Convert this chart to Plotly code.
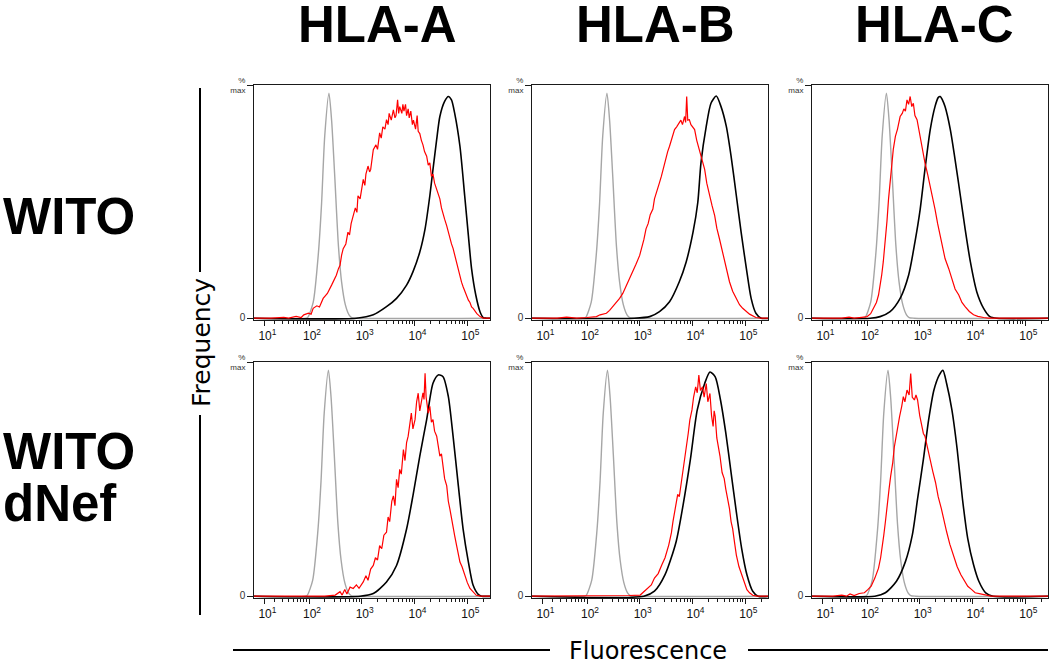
import math
import plotly.graph_objects as go

# ---------------- data (x = log10 fluorescence, y = % of max) ----------------
COLUMNS = ["HLA-A", "HLA-B", "HLA-C"]
ROW_LABELS = [["WITO"], ["WITO", "dNef"]]
TICK_EXPONENTS = [1, 2, 3, 4, 5]
Y_TICK_TEXT = ["<span style='font-size:10px'>0</span>", "%<br>max"]

A_WITO_GRAY = [(0.3, 0), (1.95, 0), (1.98, 0.5), (2.08, 7), (2.18, 29), (2.24, 51), (2.30, 81), (2.38, 100),
               (2.43, 88), (2.49, 63), (2.56, 32), (2.62, 16), (2.69, 6), (2.76, 1.5), (2.81, 0.3), (2.90, 0), (5.5, 0)]
A_WITO_BLACK = [(0.3, 0), (2.9, 0), (3.22, 1.5), (3.47, 5.1), (3.66, 8.8), (3.85, 14.7), (3.97, 20.6), (4.10, 29.4),
                (4.20, 39.7), (4.29, 54.4), (4.35, 66.1), (4.42, 79.4), (4.48, 89.6), (4.57, 96.3), (4.64, 98.5),
                (4.70, 97), (4.76, 91.1), (4.86, 76.4), (4.95, 54.4), (5.02, 36.7), (5.08, 22), (5.16, 10.3),
                (5.24, 2.9), (5.30, 0.3), (5.36, 0), (5.5, 0)]
A_WITO_RED = [(0.3, 0), (1.2, 0), (1.5, 0.4), (1.6, 0), (1.75, 0.8), (1.85, 0.3), (1.9, 1.5), (1.99, 2.2), (2.04, 1.8),
              (2.08, 4.4), (2.15, 5.5), (2.2, 5), (2.27, 8.8), (2.35, 11), (2.43, 14.7), (2.48, 17), (2.52, 19.1),
              (2.56, 22), (2.59, 23.5), (2.62, 28), (2.65, 30.9), (2.70, 33), (2.74, 38.2), (2.77, 37), (2.80, 42),
              (2.84, 45.6), (2.88, 49), (2.91, 47), (2.93, 54.4), (2.97, 53), (3.0, 58), (3.03, 61.7), (3.06, 59),
              (3.08, 64), (3.12, 67.6), (3.15, 65), (3.17, 66), (3.20, 72), (3.22, 74.9), (3.27, 77), (3.30, 75),
              (3.34, 82.3), (3.37, 80), (3.40, 85), (3.44, 84), (3.47, 88.2), (3.50, 86), (3.52, 91), (3.56, 88),
              (3.60, 92.6), (3.63, 89), (3.65, 90), (3.68, 97), (3.70, 91), (3.72, 94), (3.76, 91), (3.78, 95),
              (3.80, 92), (3.83, 95), (3.85, 90), (3.88, 93), (3.90, 89), (3.93, 92), (3.96, 86), (3.98, 88),
              (4.02, 84), (4.05, 90), (4.07, 83), (4.10, 82), (4.13, 79), (4.16, 77), (4.19, 74), (4.23, 72),
              (4.26, 68), (4.29, 69), (4.32, 63), (4.35, 64), (4.38, 60), (4.41, 58), (4.45, 55), (4.48, 53),
              (4.51, 49), (4.54, 47), (4.57, 44), (4.61, 41), (4.64, 38), (4.67, 36), (4.70, 33), (4.73, 31),
              (4.77, 27), (4.80, 25), (4.83, 21), (4.86, 19), (4.89, 16), (4.92, 14), (4.95, 12), (4.98, 10),
              (5.02, 8), (5.05, 7), (5.08, 5), (5.11, 4.4), (5.15, 3), (5.18, 2), (5.24, 0.7), (5.30, 0), (5.5, 0)]

B_WITO_GRAY = [(0.3, 0), (1.95, 0), (1.98, 0.5), (2.08, 7), (2.18, 29), (2.24, 51), (2.30, 81), (2.38, 100),
               (2.43, 88), (2.49, 63), (2.56, 32), (2.62, 16), (2.69, 6), (2.76, 1.5), (2.81, 0.3), (2.90, 0), (5.5, 0)]
B_WITO_BLACK = [(0.3, 0), (2.9, 0), (3.19, 0.7), (3.375, 2.9), (3.565, 7.3), (3.75, 16.2), (3.88, 25), (4.01, 38.2),
                (4.10, 51.4), (4.16, 69), (4.26, 85.2), (4.35, 95.5), (4.45, 98.7), (4.54, 94), (4.64, 85.2),
                (4.73, 72), (4.83, 54.4), (4.92, 38.2), (5.02, 22), (5.11, 8.8), (5.2, 2.2), (5.3, 0), (5.5, 0)]
B_WITO_RED = [(0.3, 0), (1.4, 0), (1.6, 0.5), (1.8, 0), (2.0, 0.3), (2.18, 0.7), (2.25, 1.5), (2.37, 2.2),
              (2.43, 3.5), (2.49, 5.1), (2.55, 6.5), (2.62, 8.8), (2.68, 11), (2.74, 14), (2.80, 17), (2.87, 20.6),
              (2.93, 24), (3.00, 27.9), (3.04, 31), (3.08, 35), (3.12, 39.7), (3.16, 42), (3.20, 46), (3.25, 48.5),
              (3.28, 53), (3.31, 55), (3.34, 58), (3.375, 60.2), (3.41, 63), (3.44, 66), (3.47, 67.6), (3.50, 71),
              (3.53, 74), (3.565, 76.4), (3.6, 79), (3.63, 82), (3.66, 83.8), (3.70, 85), (3.75, 86.7), (3.78, 88),
              (3.81, 86), (3.85, 89.6), (3.87, 87), (3.89, 98.5), (3.91, 88), (3.94, 88.2), (3.97, 86), (4.00, 85),
              (4.04, 83.8), (4.08, 79), (4.13, 74.9), (4.18, 70), (4.23, 66.1), (4.27, 60), (4.32, 54.4), (4.37, 50),
              (4.42, 45.6), (4.46, 40), (4.51, 35.3), (4.56, 30), (4.61, 25), (4.65, 21), (4.70, 16.2), (4.76, 12),
              (4.83, 8.8), (4.89, 6), (4.95, 4.4), (5.02, 3), (5.08, 1.8), (5.2, 0.3), (5.3, 0), (5.5, 0)]

C_WITO_GRAY = [(0.3, 0), (1.94, 0), (1.97, 0.5), (2.07, 7), (2.17, 29), (2.23, 51), (2.29, 81), (2.37, 100),
               (2.42, 88), (2.48, 63), (2.55, 32), (2.61, 16), (2.68, 6), (2.75, 1.5), (2.80, 0.3), (2.89, 0), (5.5, 0)]
C_WITO_BLACK = [(0.3, 0), (2.06, 0), (2.25, 0.7), (2.44, 2.9), (2.63, 8.8), (2.79, 19.1), (2.91, 33.8), (3.01, 48.5),
                (3.10, 66.1), (3.20, 83.8), (3.29, 94), (3.35, 98), (3.39, 98.5), (3.43, 97), (3.48, 94),
                (3.58, 83.8), (3.67, 70.5), (3.77, 54.4), (3.86, 39.7), (3.96, 25), (4.08, 11.8), (4.21, 4.4),
                (4.33, 0.7), (4.46, 0), (5.5, 0)]
C_WITO_RED = [(0.3, 0), (1.5, 0), (1.65, 0.5), (1.75, 0), (1.9, 0.4), (2.0, 0.7), (2.07, 2), (2.13, 4.4), (2.18, 7),
              (2.22, 10.3), (2.25, 14), (2.28, 19.1), (2.31, 25), (2.35, 33.8), (2.38, 43), (2.41, 52.9), (2.44, 61),
              (2.47, 69), (2.50, 75), (2.54, 80.8), (2.58, 84), (2.63, 89.6), (2.67, 91), (2.70, 93), (2.73, 92),
              (2.76, 97), (2.79, 95), (2.82, 98.5), (2.85, 94), (2.88, 95.5), (2.91, 90), (2.95, 88.2), (2.98, 84),
              (3.01, 80.8), (3.05, 75), (3.10, 69), (3.15, 64), (3.20, 58.8), (3.25, 53), (3.29, 48.5), (3.34, 42),
              (3.39, 36.7), (3.43, 31), (3.48, 26.5), (3.55, 22), (3.61, 17.6), (3.67, 13), (3.74, 10.3), (3.80, 7),
              (3.86, 5.1), (3.94, 3), (4.02, 1.5), (4.1, 0.8), (4.21, 0.3), (4.3, 0), (5.5, 0)]

A_DNEF_GRAY = [(0.3, 0), (1.94, 0), (1.97, 0.5), (2.07, 7), (2.17, 29), (2.23, 51), (2.29, 81), (2.37, 100),
               (2.42, 88), (2.48, 63), (2.55, 32), (2.61, 16), (2.68, 6), (2.75, 1.5), (2.80, 0.3), (2.89, 0), (5.5, 0)]
A_DNEF_BLACK = [(0.3, 0), (2.97, 0), (3.22, 1.2), (3.47, 6.3), (3.66, 13.6), (3.85, 29.7), (3.97, 44.4), (4.10, 62),
                (4.23, 78.1), (4.35, 94.2), (4.45, 97.9), (4.54, 97.1), (4.64, 88.4), (4.73, 70.8), (4.83, 48.8),
                (4.92, 29.7), (5.02, 15.1), (5.11, 4.8), (5.21, 0.7), (5.27, 0), (5.5, 0)]
A_DNEF_RED = [(0.3, 0), (1.5, 0), (2.3, 0), (2.5, 0.5), (2.59, 2), (2.63, 0.5), (2.68, 3), (2.72, 1), (2.78, 4),
              (2.84, 3.4), (2.9, 5), (2.95, 3.5), (3.03, 6.3), (3.08, 9), (3.12, 7), (3.17, 12), (3.22, 13.6),
              (3.26, 17), (3.30, 16), (3.34, 22.4), (3.38, 21), (3.42, 27), (3.47, 28.3), (3.50, 35), (3.53, 33),
              (3.57, 42), (3.60, 44.4), (3.63, 40), (3.66, 51.7), (3.69, 48), (3.72, 56.1), (3.75, 54), (3.79, 64.9),
              (3.82, 60), (3.85, 68), (3.88, 70.8), (3.91, 75), (3.94, 81), (3.97, 74), (4.01, 78.1), (4.04, 86),
              (4.07, 89.8), (4.10, 82), (4.13, 85.4), (4.16, 90), (4.18, 87), (4.20, 98.6), (4.22, 88), (4.26, 81),
              (4.29, 84), (4.32, 77), (4.35, 78.1), (4.38, 73), (4.42, 70.8), (4.45, 66), (4.48, 62), (4.51, 63),
              (4.54, 57.6), (4.57, 52), (4.61, 48.8), (4.64, 42), (4.67, 38.5), (4.70, 34), (4.73, 30), (4.76, 26.8),
              (4.80, 22), (4.83, 18), (4.86, 15.1), (4.90, 13), (4.95, 9.2), (5.0, 6), (5.05, 3.4), (5.1, 2),
              (5.17, 0.4), (5.25, 0), (5.5, 0)]

B_DNEF_GRAY = [(0.3, 0), (1.96, 0), (1.99, 0.5), (2.09, 7), (2.19, 29), (2.25, 51), (2.31, 81), (2.39, 100),
               (2.44, 88), (2.50, 63), (2.57, 32), (2.63, 16), (2.70, 6), (2.77, 1.5), (2.82, 0.3), (2.91, 0), (5.5, 0)]
B_DNEF_BLACK = [(0.3, 0), (3.08, 0), (3.28, 2.2), (3.48, 9.5), (3.69, 24.1), (3.82, 40.1), (3.96, 60.5), (4.09, 82.4),
                (4.23, 94.1), (4.33, 99.2), (4.43, 97), (4.53, 86.8), (4.63, 72.2), (4.73, 54.7), (4.83, 37.2),
                (4.93, 21.2), (5.03, 9.5), (5.14, 2.2), (5.24, 0), (5.5, 0)]
B_DNEF_RED = [(0.3, 0), (2.5, 0), (2.8, 0.3), (3.01, 0.5), (3.08, 2), (3.15, 3.6), (3.22, 5), (3.28, 8), (3.35, 10),
              (3.42, 13.9), (3.48, 17), (3.55, 22.6), (3.60, 28), (3.63, 33), (3.66, 37), (3.69, 40.1), (3.72, 45),
              (3.75, 44), (3.79, 50.3), (3.82, 56), (3.85, 62), (3.88, 66), (3.92, 72.2), (3.95, 78), (3.99, 82.4),
              (4.02, 88), (4.06, 92.6), (4.09, 90), (4.12, 97.8), (4.15, 91), (4.19, 92.6), (4.22, 88), (4.26, 94.1),
              (4.29, 86), (4.33, 89.7), (4.36, 80), (4.39, 75.1), (4.41, 82), (4.43, 79.5), (4.46, 70), (4.49, 66.4),
              (4.52, 62), (4.56, 54.7), (4.60, 52), (4.63, 47.4), (4.66, 44), (4.70, 38.7), (4.73, 33), (4.76, 29.9),
              (4.80, 23), (4.83, 18.2), (4.88, 13), (4.93, 9.5), (4.98, 6), (5.03, 2.9), (5.08, 1.5), (5.14, 0.4),
              (5.22, 0), (5.5, 0)]

C_DNEF_GRAY = [(0.3, 0), (1.97, 0), (2.00, 0.5), (2.10, 7), (2.20, 29), (2.26, 51), (2.32, 81), (2.40, 100),
               (2.45, 88), (2.51, 63), (2.58, 32), (2.64, 16), (2.71, 6), (2.78, 1.5), (2.83, 0.3), (2.92, 0), (5.5, 0)]
C_DNEF_BLACK = [(0.3, 0), (2.15, 0), (2.35, 1.5), (2.56, 6.6), (2.73, 15.3), (2.86, 27), (2.96, 43), (3.07, 60.5),
                (3.17, 78.1), (3.27, 91.2), (3.37, 97.8), (3.44, 99.9), (3.51, 94.1), (3.61, 82.4), (3.71, 64.9),
                (3.81, 43), (3.91, 25.5), (4.02, 13.9), (4.12, 6.6), (4.25, 1.5), (4.39, 0), (5.5, 0)]
C_DNEF_RED = [(0.3, 0), (1.3, 0), (1.5, 0.5), (1.6, 0), (1.67, 1), (1.75, 0.3), (1.85, 1.2), (1.95, 1.5), (2.02, 3),
              (2.08, 4.4), (2.15, 8), (2.22, 12.4), (2.26, 17), (2.29, 21.2), (2.32, 27), (2.35, 32.8), (2.38, 40),
              (2.42, 47.4), (2.45, 53), (2.49, 59.1), (2.52, 66), (2.56, 72.2), (2.59, 76), (2.62, 79.5), (2.66, 84),
              (2.69, 88.3), (2.72, 86), (2.76, 91.2), (2.80, 89), (2.83, 98.5), (2.86, 88), (2.90, 86.8), (2.93, 89),
              (2.96, 86.8), (3.00, 80), (3.03, 76.6), (3.07, 72), (3.10, 70.8), (3.15, 65), (3.20, 60.5), (3.25, 55),
              (3.30, 50.3), (3.35, 44), (3.41, 38.7), (3.46, 33), (3.51, 28.5), (3.57, 23), (3.64, 18.2), (3.71, 13),
              (3.78, 9.5), (3.84, 7), (3.91, 4.4), (3.98, 3), (4.05, 1.5), (4.15, 1), (4.25, 0.4), (4.35, 0), (5.5, 0)]

PANELS = [
    [(A_WITO_GRAY, A_WITO_BLACK, A_WITO_RED), (B_WITO_GRAY, B_WITO_BLACK, B_WITO_RED), (C_WITO_GRAY, C_WITO_BLACK, C_WITO_RED)],
    [(A_DNEF_GRAY, A_DNEF_BLACK, A_DNEF_RED), (B_DNEF_GRAY, B_DNEF_BLACK, B_DNEF_RED), (C_DNEF_GRAY, C_DNEF_BLACK, C_DNEF_RED)],
]

# ---------------- layout constants ----------------
W, H = 1050, 663
COL_PX = [(254, 490), (532, 768), (812, 1048)]
ROW_PX = [(85, 320), (362, 598)]
X_RANGE = [0.0586, 4.526]
Y_RANGE = [-0.8, 103.6]
Y_TOP_TICK = 103.5
TITLE_FONT = "Liberation Sans, Arial, sans-serif"
LABEL_FONT = "DejaVu Sans, sans-serif"
TICK_FONT = "Liberation Sans, Arial, sans-serif"


def biex(lx):
    """FlowJo-like biexponential display transform of a log10 value."""
    return math.asinh((10 ** lx) / 16.0) / math.log(10)


def px_x(p):
    return p / W


def px_y(p):
    return 1 - p / H


major_vals = [biex(k) for k in TICK_EXPONENTS]
major_text = [f"10<sup>{k}</sup>" for k in TICK_EXPONENTS]
minor_vals = []
for k in range(1, 6):
    for m in range(2, 10):
        t = biex(math.log10(m) + k)
        if t < X_RANGE[1]:
            minor_vals.append(t)

fig = go.Figure()
styles = [("#a6a6a6", 1.4, "spline"), ("#000000", 1.6, "spline"), ("#ff0000", 1.2, "linear")]

layout = {}
idx = 0
for r, row in enumerate(PANELS):
    for c, curves in enumerate(row):
        idx += 1
        xa = "x" if idx == 1 else f"x{idx}"
        ya = "y" if idx == 1 else f"y{idx}"
        for curve, (col, lw, shape) in zip(curves, styles):
            fig.add_trace(go.Scatter(
                x=[biex(p[0]) for p in curve], y=[p[1] for p in curve],
                mode="lines", line=dict(color=col, width=lw, shape=shape, smoothing=0.7),
                xaxis=xa, yaxis=ya, showlegend=False, hoverinfo="skip"))
        x0, x1 = COL_PX[c]
        y0, y1 = ROW_PX[r]
        layout[f"xaxis{'' if idx == 1 else idx}"] = dict(
            domain=[px_x(x0), px_x(x1)], anchor=ya, range=X_RANGE, automargin=False,
            showgrid=False, zeroline=False, showline=True, mirror=True,
            linecolor="#1a1a1a", linewidth=1,
            ticks="outside", ticklen=5, tickwidth=1, tickcolor="#1a1a1a",
            tickmode="array", tickvals=major_vals, ticktext=major_text,
            ticklabelshift=3,
            tickfont=dict(family=TICK_FONT, size=12, color="#111111"),
            minor=dict(tickmode="array", tickvals=minor_vals, ticks="outside", ticklen=3,
                       tickwidth=1, tickcolor="#1a1a1a", showgrid=False),
        )
        layout[f"yaxis{'' if idx == 1 else idx}"] = dict(
            domain=[px_y(y1), px_y(y0)], anchor=xa, range=Y_RANGE, automargin=False,
            showgrid=False, zeroline=False, showline=True, mirror=True,
            linecolor="#1a1a1a", linewidth=1,
            ticks="outside", ticklen=6, tickwidth=1, tickcolor="#1a1a1a",
            tickmode="array", tickvals=[0, Y_TOP_TICK], ticktext=Y_TICK_TEXT,
            tickfont=dict(family=TICK_FONT, size=8, color="#333333"),
        )

annotations = []
# column titles
for c, name in enumerate(COLUMNS):
    cx = (COL_PX[c][0] + COL_PX[c][1]) / 2 + 5
    annotations.append(dict(text=f"<b>{name}</b>", x=px_x(cx), y=px_y(25), xref="paper", yref="paper",
                            xanchor="center", yanchor="middle", showarrow=False,
                            font=dict(family=TITLE_FONT, size=51, color="#000000")))
# row labels
row_label_y = [[217], [451, 503]]
for r, lines in enumerate(ROW_LABELS):
    for text, ly in zip(lines, row_label_y[r]):
        annotations.append(dict(text=f"<b>{text}</b>", x=px_x(1), y=px_y(ly), xref="paper", yref="paper",
                                xanchor="left", yanchor="middle", showarrow=False,
                                font=dict(family=TITLE_FONT, size=51, color="#000000")))
annotations.append(dict(text="Frequency", x=px_x(201), y=px_y(343), xref="paper", yref="paper",
                        xanchor="center", yanchor="middle", textangle=-90, showarrow=False,
                        font=dict(family=LABEL_FONT, size=25, color="#000000")))
annotations.append(dict(text="Fluorescence", x=px_x(648), y=-4 / H, xref="paper", yref="paper",
                        xanchor="center", yanchor="bottom", showarrow=False,
                        font=dict(family=LABEL_FONT, size=24, color="#000000")))

shapes = [
    dict(type="line", xref="paper", yref="paper", x0=px_x(200), x1=px_x(200), y0=px_y(88), y1=px_y(272),
         line=dict(color="black", width=2)),
    dict(type="line", xref="paper", yref="paper", x0=px_x(200), x1=px_x(200), y0=px_y(415), y1=px_y(615),
         line=dict(color="black", width=2)),
    dict(type="line", xref="paper", yref="paper", x0=px_x(233), x1=px_x(550), y0=px_y(650), y1=px_y(650),
         line=dict(color="black", width=2)),
    dict(type="line", xref="paper", yref="paper", x0=px_x(748), x1=px_x(1048), y0=px_y(650), y1=px_y(650),
         line=dict(color="black", width=2)),
]

fig.update_layout(**layout)
fig.update_layout(width=W, height=H, autosize=False, margin=dict(l=0, r=0, t=0, b=0, pad=0),
                  paper_bgcolor="white", plot_bgcolor="white",
                  annotations=annotations, shapes=shapes)
fig.write_html("out.html", config={"displayModeBar": False},
               post_script="document.body.style.margin='0px';document.body.style.padding='0px';")
